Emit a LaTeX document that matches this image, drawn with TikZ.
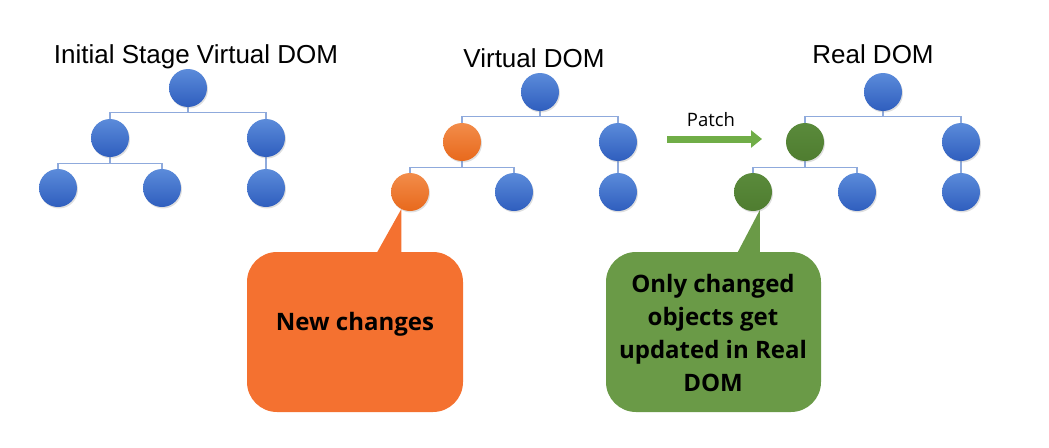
\documentclass[tikz,border=0pt]{standalone}
\usepackage{fontspec}
\setmainfont{Liberation Sans}
\newfontfamily\osans{Open Sans}
\usetikzlibrary{shadows,backgrounds,arrows.meta,calc}
\definecolor{bluetop}{HTML}{5B8BDA}
\definecolor{bluebot}{HTML}{2F5EBE}
\definecolor{orangetop}{HTML}{F28C4A}
\definecolor{orangebot}{HTML}{E8691C}
\definecolor{greentop}{HTML}{5A8A3B}
\definecolor{greenbot}{HTML}{4F7D30}
\definecolor{linkc}{HTML}{8FAADC}
\definecolor{calloutor}{HTML}{F47130}
\definecolor{calloutgr}{HTML}{6A9A47}
\definecolor{patchc}{HTML}{70AD47}
\begin{document}
\begin{tikzpicture}[x=1pt,y=-1pt,
 circ/.style={circle, minimum size=38pt, inner sep=0pt, top color=#1top, bottom color=#1bot,
   drop shadow={opacity=0.25, shadow xshift=1pt, shadow yshift=-1.5pt}},
 link/.style={draw=linkc, line width=1.3pt},
 title/.style={font=\fontsize{26}{30}\selectfont, anchor=base},
 callout/.style={fill=#1, rounded corners=30pt, minimum width=216pt, minimum height=160pt, inner sep=0pt},
 ctext/.style={font=\osans\bfseries\fontsize{24}{33}\selectfont, align=center},
]
\useasboundingbox (0,0) rectangle (1049,447);

\foreach \p/\x/\y/\ca/\cb in {a/188/88/blue/blue, b/540/92/orange/orange, c/883/92/green/green} {
  \node[circ=blue] (\p-r) at (\x,\y) {};
  \node[circ=\ca] (\p-l) at (\x-78,\y+50) {};
  \node[circ=blue] (\p-R) at (\x+78,\y+50) {};
  \node[circ=\cb] (\p-ll) at (\x-130,\y+100) {};
  \node[circ=blue] (\p-lr) at (\x-26,\y+100) {};
  \node[circ=blue] (\p-RR) at (\x+78,\y+100) {};
  \begin{scope}[on background layer]
    \draw[link] (\p-r.south) -- ++(0,5) -| (\p-l.north);
    \draw[link] (\p-r.south) -- ++(0,5) -| (\p-R.north);
    \draw[link] (\p-l.south) -- ++(0,6) -| (\p-ll.north);
    \draw[link] (\p-l.south) -- ++(0,6) -| (\p-lr.north);
    \draw[link] (\p-R.south) -- (\p-RR.north);
  \end{scope}
}

\node[title] (t1) at (196,63) {Initial Stage Virtual DOM};
\node[title] (t2) at (534,67) {Virtual DOM};
\node[title] (t3) at (873,63) {Real DOM};

\coordinate (ps) at (667,139);
\coordinate (pe) at (762,139);
\draw[patchc, line width=7pt, -{Triangle[length=11pt,width=17pt]}] (ps) -- (pe);
\node[font=\osans\fontsize{18.5}{22}\selectfont, anchor=base] (patch) at (711,126) {Patch};

\node[callout=calloutor] (nc) at (355,332) {};
\fill[calloutor] (b-ll.-117) -- ($(b-ll.-117 |- nc.north)+(0,2)$) -- ++(-25,0) -- cycle;
\node[ctext, anchor=base] (nct) at (355,330) {New changes};

\node[callout=calloutgr, minimum width=215pt] (gc) at (713.5,332) {};
\fill[calloutgr] (c-ll.-69) -- ($(c-ll.-69 |- gc.north)+(0,2)$) -- ++(-23,0) -- cycle;
\node[ctext] (gct) at (713,333) {Only changed\\objects get\\updated in Real\\DOM};
\end{tikzpicture}
\end{document}
